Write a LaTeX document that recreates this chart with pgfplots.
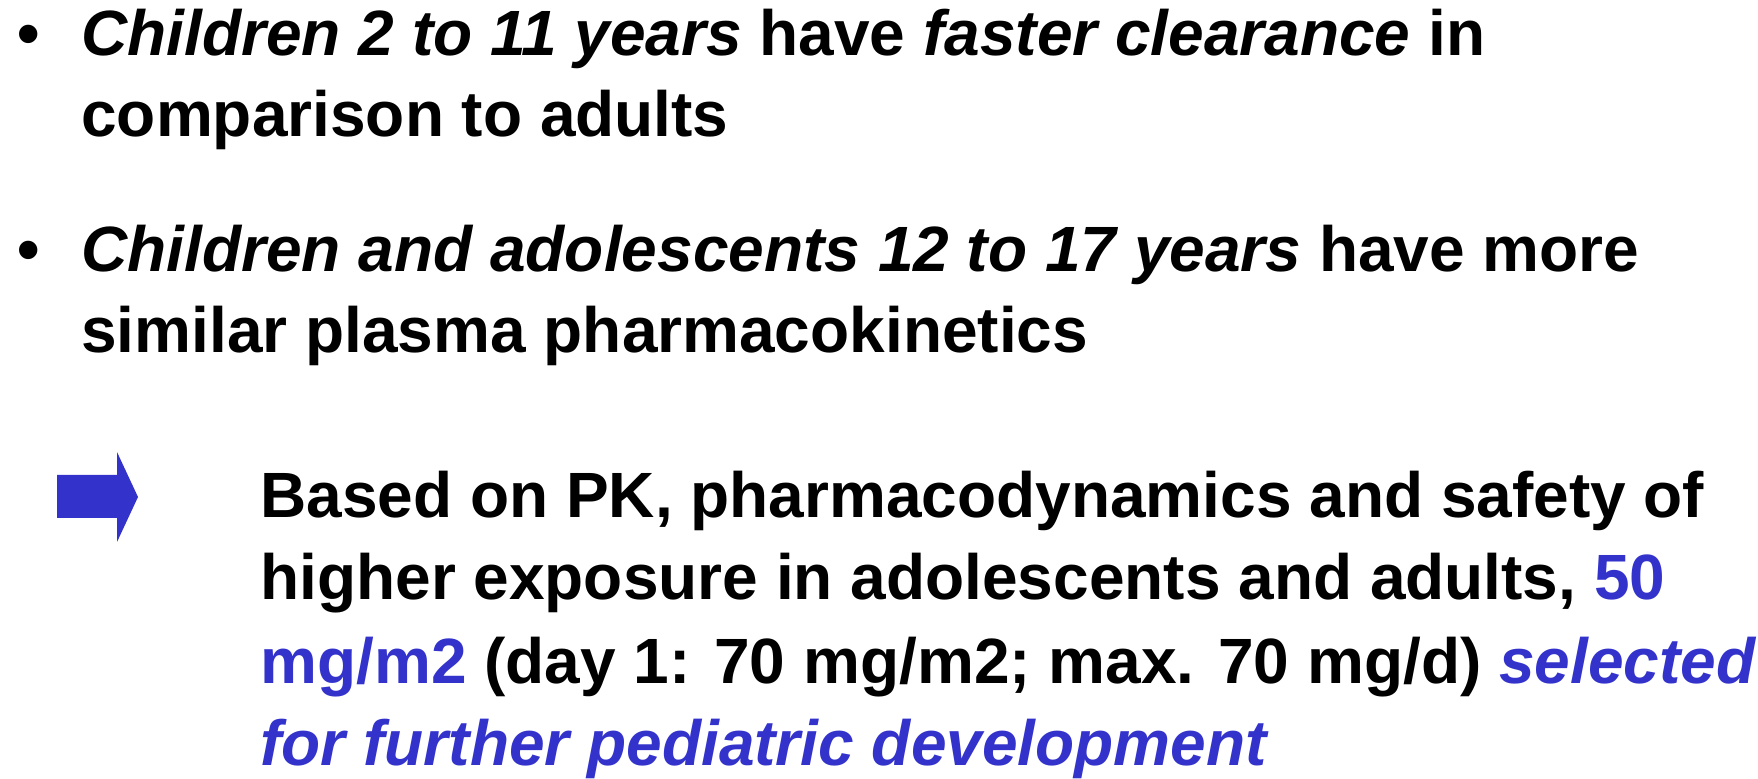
\documentclass[border=0pt]{standalone}
\usepackage{fontspec}
\setmainfont{Liberation Sans}
\usepackage{pgfplots}
\pgfplotsset{compat=1.18}
\definecolor{slideblue}{RGB}{51,51,204}
\tikzset{txt/.style={anchor=base west, inner sep=0pt, font=\fontsize{32}{38}\selectfont\bfseries}}

\begin{document}
\begin{tikzpicture}
\begin{axis}[
    scale only axis, width=879pt, height=389.5pt,
    xmin=0, xmax=1758, ymin=0, ymax=779, y dir=reverse,
    axis lines=none, clip=false,
]
% arrow (pixel coordinates of the slide)
\addplot[fill=slideblue, draw=none] coordinates {
  (57,475) (117,475) (117,452) (138,497) (117,542) (117,518) (57,518) (57,475)
};
% first bullet
\node[txt] at (axis cs:17,56) {•};
\node[txt] at (axis cs:81,56) {\itshape Children 2 to 11 years\upshape{} have \itshape faster clearance\upshape{} in};
\node[txt] at (axis cs:81,137) {comparison to adults};
% second bullet
\node[txt] at (axis cs:17,272) {•};
\node[txt] at (axis cs:81,272) {\itshape Children and adolescents 12 to 17 years\upshape{} have more};
\node[txt] at (axis cs:81,353) {similar plasma pharmacokinetics};
% conclusion
\node[txt] at (axis cs:260,518) {Based on PK, pharmacodynamics and safety of};
\node[txt] at (axis cs:260,600) {higher exposure in adolescents and adults, \textcolor{slideblue}{50}};
\node[txt] at (axis cs:260,684) {\textcolor{slideblue}{mg/m2} (day 1: 70 mg/m2; max. 70 mg/d) \textcolor{slideblue}{\itshape selected}};
\node[txt] at (axis cs:260,766) {\color{slideblue}\itshape for further pediatric development};
\end{axis}
\pgfresetboundingbox
\useasboundingbox (current axis.south west) rectangle (current axis.north east);
\end{tikzpicture}
\end{document}
